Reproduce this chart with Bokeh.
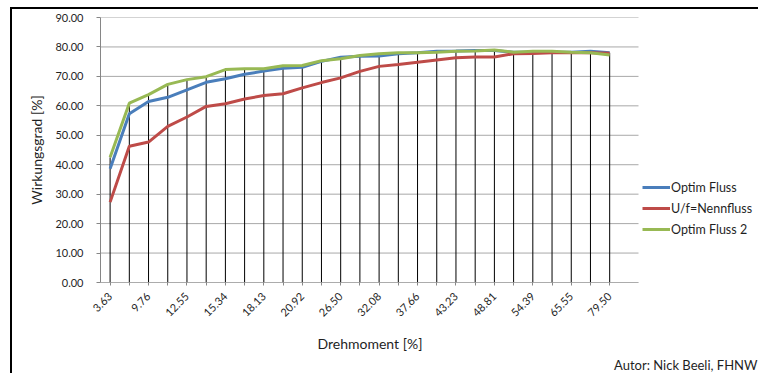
import numpy as np
from bokeh.plotting import figure
from bokeh.models import (Range1d, FixedTicker, Legend, LegendItem, Title,
                          NumeralTickFormatter)
from bokeh.embed import file_html
from bokeh.resources import INLINE

# x-axis tick labels (Drehmoment [%]), shown on every other category
tick_labels = ["3.63", "9.76", "12.55", "15.34", "18.13", "20.92", "26.50",
               "32.08", "37.66", "43.23", "48.81", "54.39", "65.55", "79.50"]
n_categories = 28
y_ticks = [0, 10, 20, 30, 40, 50, 60, 70, 80, 90]

# Wirkungsgrad [%]
optim_fluss = [38.6, 57.3, 61.5, 62.9, 65.4, 68.0, 69.2, 70.7, 71.8, 72.8,
               73.1, 75.1, 76.5, 76.8, 76.9, 77.7, 78.0, 78.5, 78.6, 78.8,
               78.8, 78.2, 78.2, 78.2, 78.2, 78.5, 78.0]
nennfluss = [27.3, 46.3, 47.7, 53.0, 56.2, 59.8, 60.7, 62.3, 63.5, 64.1,
             66.1, 67.9, 69.5, 71.7, 73.4, 74.0, 74.8, 75.6, 76.3, 76.6,
             76.6, 77.7, 77.8, 78.0, 78.0, 78.0, 77.9]
optim_fluss_2 = [42.5, 60.9, 63.8, 67.3, 68.9, 69.9, 72.3, 72.6, 72.6, 73.6,
                 73.7, 75.3, 76.0, 77.1, 77.7, 78.0, 78.0, 78.2, 78.5, 78.6,
                 79.0, 78.2, 78.5, 78.5, 78.2, 78.0, 77.3]

series_names = ["Optim Fluss", "U/f=Nennfluss", "Optim Fluss 2"]
series_colors = ["#4A7EBB", "#BE4B48", "#98B954"]

x = list(range(len(optim_fluss)))
top = np.max(np.array([optim_fluss, nennfluss, optim_fluss_2]), axis=0)

FONT = "Lato"
TXT = "#1f1f1f"
AXIS_COL = "#868686"

# layout (pixels)
W, H = 748, 366
left_b, right_b, top_b, bottom_b = 88, 2, 8, 93
plot_area_px = 538           # width of the category area
frame_px = W - left_b - right_b
x_start = -0.5
x_end = x_start + n_categories * frame_px / plot_area_px
cat_end = x_start + n_categories

p = figure(width=W, height=H, output_backend="svg", toolbar_location=None,
           x_range=Range1d(x_start, x_end), y_range=Range1d(0, 90),
           min_border_left=left_b, min_border_right=right_b,
           min_border_top=top_b, min_border_bottom=bottom_b)
p.outline_line_color = None
p.styles = {"margin-left": "10px", "margin-top": "7px",
            "border-top": "2px solid black", "border-left": "2px solid black"}

# horizontal gridlines (only over the category area)
p.segment(x0=[x_start] * len(y_ticks), y0=y_ticks,
          x1=[cat_end] * len(y_ticks), y1=y_ticks,
          line_color="#a8a8a8", line_width=1)
# drop lines
p.segment(x0=x, y0=0, x1=x, y1=top, line_color="black", line_width=1)
# x axis line
p.segment(x0=[x_start], y0=[0], x1=[cat_end], y1=[0],
          line_color=AXIS_COL, line_width=1)

renderers = []
for vals, col in zip([optim_fluss, nennfluss, optim_fluss_2], series_colors):
    r = p.line(x, vals, line_color=col, line_width=3)
    renderers.append(r)

# axes
overrides = {}
for i in x:
    overrides[i] = tick_labels[i // 2] if i % 2 == 0 else ""
p.xaxis.ticker = FixedTicker(ticks=x)
p.xaxis.major_label_overrides = overrides
p.xaxis.major_label_orientation = np.pi / 4
p.xaxis.minor_tick_line_color = None
p.xaxis.major_tick_in = 0
p.xaxis.major_tick_out = 3
p.xaxis.major_tick_line_color = AXIS_COL
p.xaxis.axis_line_color = None
p.xaxis.major_label_standoff = 9

p.yaxis.ticker = FixedTicker(ticks=y_ticks)
p.yaxis.formatter = NumeralTickFormatter(format="0.00")
p.yaxis.minor_tick_line_color = None
p.yaxis.major_tick_in = 0
p.yaxis.major_tick_out = 4
p.yaxis.major_tick_line_color = AXIS_COL
p.yaxis.axis_line_color = AXIS_COL
p.yaxis.major_label_standoff = 13
p.yaxis.axis_label = "Wirkungsgrad [%]"
p.yaxis.axis_label_standoff = 7

for ax in [p.xaxis[0], p.yaxis[0]]:
    ax.major_label_text_font = FONT
    ax.major_label_text_font_size = "11px"
    ax.major_label_text_color = TXT
    ax.axis_label_text_font = FONT
    ax.axis_label_text_font_size = "14px"
    ax.axis_label_text_font_style = "normal"
    ax.axis_label_text_color = TXT

p.xgrid.visible = False
p.ygrid.visible = False

legend = Legend(items=[LegendItem(label=n, renderers=[r])
                       for n, r in zip(series_names, renderers)],
                location=(542, 43), orientation="vertical",
                border_line_alpha=0, background_fill_alpha=0,
                padding=0, margin=0, spacing=1, glyph_width=28,
                glyph_height=20, label_height=20, label_standoff=1,
                label_text_font=FONT, label_text_font_size="12.5px",
                label_text_color=TXT)
p.add_layout(legend)

xlabel = Title(text="Drehmoment [%]", align="left", offset=217, standoff=19,
               text_font=FONT, text_font_size="14px",
               text_font_style="normal", text_color=TXT)
p.add_layout(xlabel, "below")

author = Title(text="Autor: Nick Beeli, FHNW", align="right", offset=1,
               standoff=-14, text_font=FONT, text_font_size="13px",
               text_font_style="normal", text_color=TXT)
p.add_layout(author, "below")

open("out.html", "w").write(file_html(p, INLINE))
